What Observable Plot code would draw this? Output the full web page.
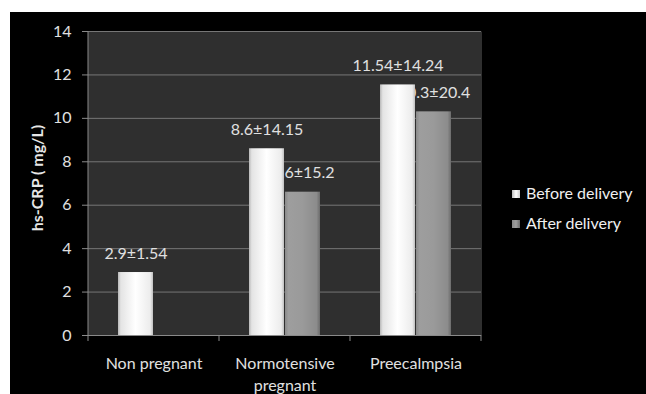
<!DOCTYPE html>
<html><head><meta charset="utf-8">
<script src="https://cdn.jsdelivr.net/npm/d3@7"></script>
<script src="https://cdn.jsdelivr.net/npm/@observablehq/plot@0.6"></script>
<style>
html,body{margin:0;padding:0;background:#fff;width:646px;height:394px;overflow:hidden;}
#wrap{position:absolute;left:10px;top:12px;width:636px;height:382px;background:#000;font-family:Lato,sans-serif;}
#chart{position:absolute;left:0;top:0;}
#ylabel{position:absolute;left:25.5px;top:166px;transform:translate(-50%,-50%) rotate(-90deg);white-space:nowrap;color:#e6e6e6;font-weight:bold;font-size:16px;}
.leg{position:absolute;left:502px;color:#f0f0f0;font-size:16px;white-space:nowrap;line-height:16px;}
.leg span.sw{display:inline-block;width:8px;height:8px;margin-right:6px;vertical-align:1px;}
</style></head>
<body>
<div id="wrap">
  <div id="chart"></div>
  <div id="ylabel"></div>
  <div id="legend"></div>
</div>
<script>
const categories = ["Non pregnant", "Normotensive\npregnant", "Preecalmpsia"];
const series = ["Before delivery", "After delivery"];
const beforeValues = [2.9, 8.6, 11.54];
const afterValues = [null, 6.6, 10.3];
const beforeLabels = ["2.9±1.54", "8.6±14.15", "11.54±14.24"];
const afterLabels = [null, "6.6±15.2", "10.3±20.4"];
const yTicks = [0, 2, 4, 6, 8, 10, 12, 14];
const yTitle = "hs-CRP ( mg/L)";

const rows = [];
categories.forEach((c, i) => {
  rows.push({group: c, series: series[0], value: beforeValues[i], label: beforeLabels[i]});
  if (afterValues[i] != null) rows.push({group: c, series: series[1], value: afterValues[i], label: afterLabels[i]});
});

const plot = Plot.plot({
  width: 636, height: 382,
  marginLeft: 77, marginTop: 19, marginRight: 164, marginBottom: 59,
  style: {background: "transparent", color: "#e0e0e0", fontFamily: "Lato, sans-serif", fontSize: "16px", overflow: "visible"},
  fx: {domain: categories, padding: 0, label: null, axis: null},
  x: {domain: series, paddingInner: 0.03, paddingOuter: 0.79, axis: null},
  y: {domain: [0, 14], label: null, axis: null},
  marks: [
    Plot.frame({fill: "#2f2f2f", stroke: "none", insetLeft: -0.5, insetRight: -0.5}),
    Plot.gridY(yTicks, {stroke: "#767676", strokeOpacity: 1}),
    Plot.ruleY([0], {stroke: "#8a8a8a"}),
    Plot.axisY(yTicks, {tickSize: 6, tickPadding: 11, stroke: "#8a8a8a", fill: "#e0e0e0", fontSize: 16}),
    Plot.axisFx({anchor: "bottom", tickSize: 0, tickPadding: 18, lineHeight: 1.375, fontSize: 16, fill: "#e0e0e0", label: null}),
    Plot.text(rows, {fx: "group", x: "series", y: "value", text: "label", dy: -19, fill: "#e0e0e0", fontSize: 16}),
    Plot.barY(rows.filter(d => d.series === series[0]), {fx: "group", x: "series", y: "value", fill: "url(#gBefore)"}),
    Plot.barY(rows.filter(d => d.series === series[1]), {fx: "group", x: "series", y: "value", fill: "url(#gAfter)"})
  ]
});

const svg = d3.select(plot);
const defs = svg.insert("defs", ":first-child");
function grad(id, stops) {
  const g = defs.append("linearGradient").attr("id", id).attr("x1", 0).attr("x2", 1).attr("y1", 0).attr("y2", 0);
  stops.forEach(([o, c]) => g.append("stop").attr("offset", o).attr("stop-color", c));
}
grad("gBefore", [[0, "#b8b8b8"], [0.08, "#e4e4e4"], [0.5, "#ffffff"], [0.92, "#ececec"], [1, "#c0c0c0"]]);
grad("gAfter", [[0, "#8a8a8a"], [0.1, "#9e9e9e"], [0.5, "#9a9a9a"], [0.9, "#8c8c8c"], [1, "#6c6c6c"]]);

// category boundary ticks and y-axis line, positioned via Plot's scales
const fxs = plot.scale("fx"), ys = plot.scale("y");
const bounds = categories.map(c => fxs.apply(c));
bounds.push(bounds[bounds.length - 1] + fxs.bandwidth);
const y0 = ys.apply(0), yTop = ys.apply(yTicks[yTicks.length - 1]);
const g = svg.append("g").attr("stroke", "#8a8a8a");
bounds.forEach(b => g.append("line").attr("x1", b).attr("x2", b).attr("y1", y0).attr("y2", y0 + 6));
g.append("line").attr("x1", bounds[0]).attr("x2", bounds[0]).attr("y1", y0).attr("y2", yTop);

document.getElementById("chart").appendChild(plot);
document.getElementById("ylabel").textContent = yTitle;
const leg = document.getElementById("legend");
const swatches = ["linear-gradient(90deg,#bbb,#fff,#ccc)", "linear-gradient(90deg,#888,#a0a0a0,#6c6c6c)"];
const legTops = [173, 203];
series.forEach((s, i) => {
  const d = document.createElement("div");
  d.className = "leg";
  d.style.top = legTops[i] + "px";
  d.innerHTML = `<span class="sw" style="background:${swatches[i]}"></span>`;
  d.appendChild(document.createTextNode(s));
  leg.appendChild(d);
});
</script>
</body></html>
